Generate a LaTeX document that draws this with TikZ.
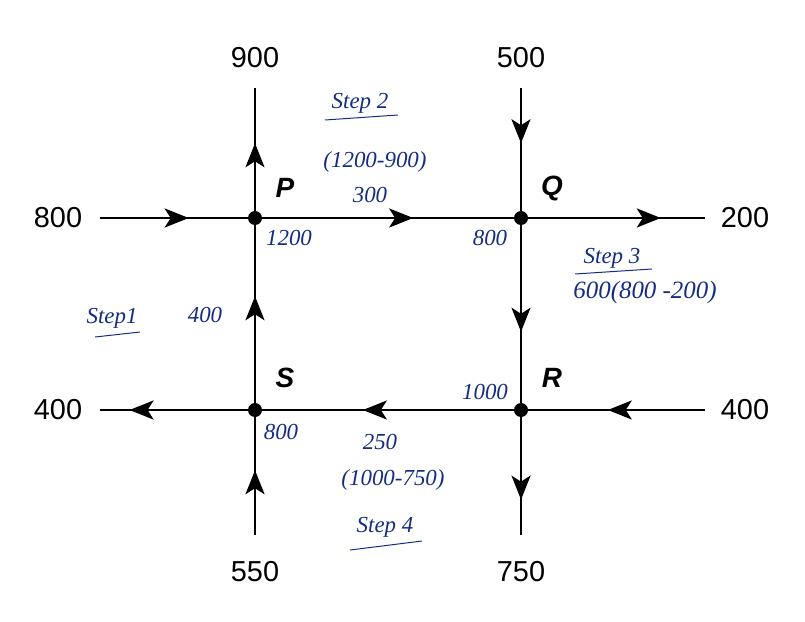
\documentclass[tikz,border=0pt]{standalone}
\usepackage{fontspec}
\setmainfont{Liberation Sans}
\newfontfamily\hand{Liberation Serif}
\usetikzlibrary{decorations.markings,arrows.meta}
\definecolor{ink}{RGB}{20,45,130}
\begin{document}
\begin{tikzpicture}[x=1bp,y=-1bp,
  lab/.style={font=\fontsize{29}{31}\selectfont},
  nm/.style={font=\fontsize{28}{30}\selectfont\itshape\bfseries},
  hw/.style={font=\hand\itshape\fontsize{23}{25}\selectfont,text=ink},
  dot/.style={circle,fill=black,inner sep=0pt,minimum size=14bp},
  fl/.style={line width=2.6pt,decoration={markings,mark=at position #1 with {\arrow{Stealth[length=24bp,width=19bp,inset=6bp]}}},postaction=decorate},
  ln/.style={line width=2.6pt}]
\useasboundingbox (0,0) rectangle (805,622);
\node[dot] (P) at (255,218) {};
\node[dot] (Q) at (521,218) {};
\node[dot] (R) at (521,410) {};
\node[dot] (S) at (255,410) {};
\coordinate (Pt) at (255,88); \coordinate (Qt) at (521,88);
\coordinate (Pl) at (100,218); \coordinate (Qr) at (705,218);
\coordinate (Sl) at (100,410); \coordinate (Rr) at (705,410);
\coordinate (Sb) at (255,535); \coordinate (Rb) at (521,535);
\draw[fl=0.55] (P) -- (Pt);
\draw[fl=0.6] (Pl) -- (P);
\draw[fl=0.6] (P) -- (Q);
\draw[fl=0.75] (Q) -- (Qr);
\draw[fl=0.45] (Qt) -- (Q);
\draw[fl=0.6] (Q) -- (R);
\draw[fl=0.7] (R) -- (Rb);
\draw[fl=0.55] (Rr) -- (R);
\draw[fl=0.6] (R) -- (S);
\draw[fl=0.8] (S) -- (Sl);
\draw[fl=0.6] (S) -- (P);
\draw[fl=0.55] (Sb) -- (S);
\node[lab] (l900) at (255,58) {900};
\node[lab] (l500) at (521,58) {500};
\node[lab] (l800) at (58,218) {800};
\node[lab] (l200) at (745,218) {200};
\node[lab] (l400a) at (58,410) {400};
\node[lab] (l400b) at (745,410) {400};
\node[lab] (l550) at (255,572) {550};
\node[lab] (l750) at (521,572) {750};
\node[nm] (nP) at (285,188) {P};
\node[nm] (nQ) at (552,188) {Q};
\node[nm] (nR) at (552,378) {R};
\node[nm] (nS) at (285,378) {S};
\node[hw] (s2) at (360,103) {Step 2};
\draw[ink,line width=1pt] (325,120) -- (398,115);
\node[hw] (h1) at (375,162) {(1200-900)};
\node[hw] (h2) at (370,195) {300};
\node[hw] (h3) at (289,238) {1200};
\node[hw] (h4) at (490,238) {800};
\node[hw] (s3) at (612,258) {Step 3};
\draw[ink,line width=1pt] (575,274) -- (652,269);
\node[hw,font=\hand\itshape\fontsize{25}{27}\selectfont] (h5) at (645,293) {600(800 -200)};
\node[hw] (s1) at (112,318) {Step1};
\draw[ink,line width=1pt] (95,337) -- (140,332);
\node[hw] (h6) at (205,315) {400};
\node[hw] (h7) at (485,392) {1000};
\node[hw] (h8) at (281,432) {800};
\node[hw] (h9) at (380,442) {250};
\node[hw] (h10) at (393,480) {(1000-750)};
\node[hw] (s4) at (385,527) {Step 4};
\draw[ink,line width=1pt] (350,550) -- (422,541);
\end{tikzpicture}
\end{document}
